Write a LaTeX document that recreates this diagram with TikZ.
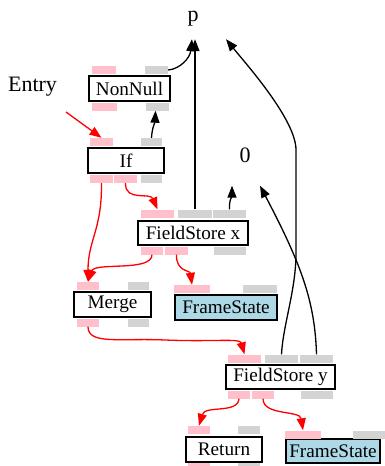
\documentclass[tikz,border=0pt]{standalone}
\usepackage{fontspec}
\setmainfont{Liberation Serif}
\usetikzlibrary{arrows.meta}
\definecolor{pinkbar}{HTML}{FFC0CB}
\definecolor{graybar}{HTML}{D3D3D3}
\definecolor{fsblue}{HTML}{ADD8E6}
\begin{document}
\begin{tikzpicture}[x=1pt,y=-1pt,
  box/.style={draw, line width=1.3pt, inner sep=0pt, minimum height=25pt, font=\fontsize{19.2}{22}\selectfont},
  fsbox/.style={box, fill=fsblue},
  pbar/.style={fill=pinkbar, inner sep=0pt, minimum height=8pt},
  gbar/.style={fill=graybar, inner sep=0pt, minimum height=8pt},
  lbl/.style={inner sep=0pt, font=\fontsize{22}{26}\selectfont},
  blk/.style={draw=black, line width=1.3pt, -{Triangle[length=12pt,width=9pt]}},
  redarr/.style={draw=red, color=red, line width=1.3pt, -{Triangle[length=12pt,width=9pt]}}
]
\useasboundingbox (0,0) rectangle (385,466);

% plain labels
\node[lbl, anchor=base] (entry) at (32.5,91) {Entry};
\node[lbl, minimum height=41pt] (p) at (193,18.5) {p};
\node[lbl, minimum height=60pt] (zero) at (245,155.5) {0};
\coordinate (entryout) at (66,112);

% NonNull
\node[box, minimum width=81pt] (nn) at (129.5,88.5) {NonNull};
\node[pbar, minimum width=24pt] (nnin) at (104,70) {};
\node[gbar, minimum width=23pt] (nnp) at (156.5,70) {};
\node[pbar, minimum width=25pt] (nnout) at (104.5,106.5) {};
\node[gbar, minimum width=23pt] (nnpo) at (157.5,106.5) {};

% If
\node[box, minimum width=76pt] (if) at (126,160.5) {If};
\node[pbar, minimum width=23pt] (ifin) at (101.5,142) {};
\node[gbar, minimum width=21pt] (ifp) at (151.5,142) {};
\node[pbar, minimum width=23pt] (ifo1) at (101.5,179) {};
\node[pbar, minimum width=23pt] (ifo2) at (125.5,179) {};
\node[gbar, minimum width=21pt] (ifpo) at (151.5,179) {};

% FieldStore x
\node[box, minimum width=110pt, minimum height=24pt] (fsx) at (193,233) {FieldStore x};
\node[pbar, minimum width=33pt] (fsxin) at (157.5,213.5) {};
\node[gbar, minimum width=34pt] (fsxg1) at (195,213.5) {};
\node[gbar, minimum width=33pt] (fsxg2) at (229.5,213.5) {};
\node[pbar, minimum width=22pt] (fsxo1) at (152,250.5) {};
\node[pbar, minimum width=23pt] (fsxo2) at (176.5,250.5) {};
\node[gbar, minimum width=32pt] (fsxpo) at (230,250.5) {};

% FrameState 1
\node[fsbox, minimum width=102pt] (fs1) at (226,307.5) {FrameState};
\node[pbar, minimum width=36pt] (fs1in) at (192,289) {};
\node[gbar, minimum width=34pt] (fs1p) at (260,289) {};

% Merge
\node[box, minimum width=77pt] (mg) at (112.5,304.5) {Merge};
\node[pbar, minimum width=22pt] (mgin) at (88,286) {};
\node[gbar, minimum width=21pt] (mgp) at (138.5,286) {};
\node[pbar, minimum width=22pt] (mgout) at (88,322.5) {};
\node[gbar, minimum width=21pt] (mgpo) at (138.5,322.5) {};

% FieldStore y
\node[box, minimum width=109pt, minimum height=24pt] (fsy) at (280.5,377) {FieldStore y};
\node[pbar, minimum width=33pt] (fsyin) at (244.5,358.5) {};
\node[gbar, minimum width=33pt] (fsyg1) at (281.5,358.5) {};
\node[gbar, minimum width=33pt] (fsyg2) at (316.5,358.5) {};
\node[pbar, minimum width=22pt] (fsyo1) at (239,394.5) {};
\node[pbar, minimum width=22pt] (fsyo2) at (263,394.5) {};
\node[gbar, minimum width=32pt] (fsypo) at (317,394.5) {};

% Return
\node[box, minimum width=76pt] (ret) at (224,449.5) {Return};
\node[pbar, minimum width=22pt] (retin) at (199,430) {};
\node[gbar, minimum width=22pt] (retp) at (249,430) {};
\node[pbar, minimum width=22pt] (retout) at (199,467) {};
\node[gbar, minimum width=22pt] (retpo) at (249,467) {};

% FrameState 2
\node[fsbox, minimum width=94pt, minimum height=24pt] (fs2) at (333,451) {FrameState};
\node[pbar, minimum width=36pt] (fs2in) at (303,434.5) {};
\node[gbar, minimum width=32pt] (fs2p) at (369,434.5) {};

% black (value) edges
\draw[blk] (nnp.east) .. controls (180,69) and (190,58) .. ([xshift=-1pt]p.south);
\draw[blk] (ifp.north) .. controls (152,128) and (155,122) .. ([xshift=-2pt]nnpo.south);
\draw[blk] (fsxg1.north) -- (fsxg1.north |- p.south);
\draw[blk] (fsxg2.north) .. controls (229,200) and (232,196) .. ([xshift=-13pt]zero.south);
\draw[blk] (fsyg1.north) .. controls (283,325) and (296,290) .. (296,253) -- (296,150)
  .. controls (296,120) and (247,65) .. ([xshift=33pt]p.south);
\draw[blk] (fsyg2.north) .. controls (315,300) and (300,262) .. ([xshift=15pt]zero.south);

% red (control) edges
\draw[redarr] (entryout) -- (ifin.north);
\draw[redarr] (ifo1.south) .. controls (102,230) and (88,240) .. (mgin.north);
\draw[redarr] (fsxo1.south) .. controls (152,272) and (95,262) .. (mgin.north);
\draw[redarr] (ifo2.south) .. controls (125,202) and (150,192) .. (fsxin.north);
\draw[redarr] (fsxo2.south) .. controls (176,272) and (190,270) .. (fs1in.north);
\draw[redarr] (mgout.south) .. controls (88,345) and (120,338) .. (165,340)
  .. controls (215,342) and (240,338) .. (fsyin.north);
\draw[redarr] (fsyo1.south) .. controls (238,414) and (205,405) .. (retin.north);
\draw[redarr] (fsyo2.south) .. controls (263,416) and (300,410) .. (fs2in.north);
\end{tikzpicture}
\end{document}
